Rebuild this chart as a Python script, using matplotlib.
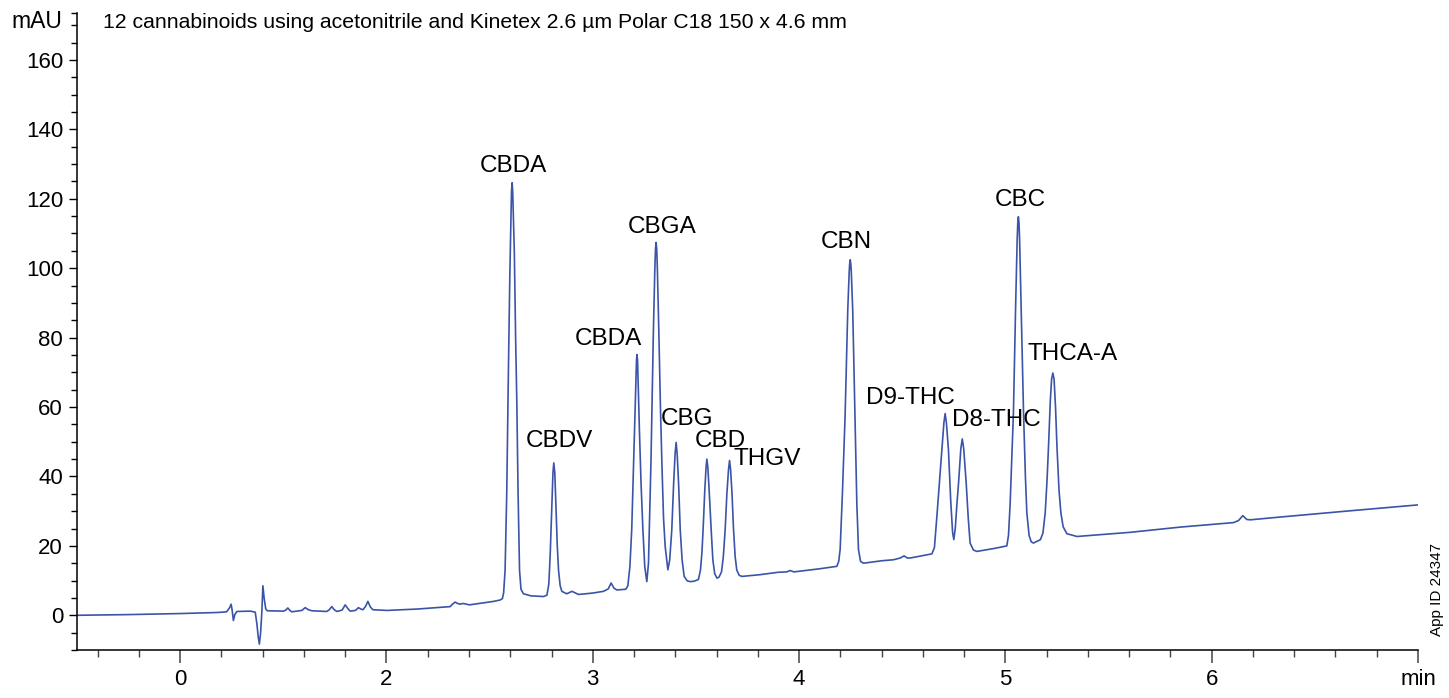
import numpy as np
import matplotlib.pyplot as plt

plt.rcParams['font.family'] = ['Liberation Sans', 'DejaVu Sans']

# Trace: retention time (min) and absorbance (mAU)
# baseline and injection disturbance
t_base = [0.50, 0.75, 1.00, 1.18, 1.225, 1.240, 1.247, 1.252, 1.258, 1.265, 1.275,
          1.340, 1.364, 1.372, 1.378, 1.384, 1.390, 1.396, 1.401, 1.407, 1.415, 1.423,
          1.501, 1.512, 1.522, 1.532, 1.541, 1.590, 1.606, 1.622, 1.638, 1.711, 1.723,
          1.735, 1.747, 1.760, 1.785, 1.800, 1.812, 1.824, 1.850, 1.864, 1.876, 1.886,
          1.898, 1.910, 1.922, 1.934, 2.002, 2.150, 2.260, 2.309, 2.320, 2.333, 2.345,
          2.357, 2.370, 2.381, 2.402, 2.519, 2.551]
a_base = [0.0, 0.2, 0.5, 0.8, 1.0, 2.2, 3.2, 1.5, -1.5, 0.2, 1.1,
          1.2, 0.9, -2.5, -6.0, -8.3, -5.0, 1.0, 8.5, 5.0, 1.8, 1.3,
          1.2, 1.5, 2.1, 1.4, 1.0, 1.4, 2.2, 1.6, 1.3, 1.1, 1.6,
          2.5, 1.6, 1.1, 1.5, 3.0, 2.0, 1.2, 1.4, 2.2, 1.8, 1.6,
          2.5, 4.0, 2.4, 1.6, 1.4, 1.8, 2.3, 2.5, 3.2, 3.8, 3.4,
          3.2, 3.4, 3.3, 3.0, 4.0, 4.4]

# CBDA / CBDV region
t_p1 = [2.562, 2.568, 2.575, 2.583, 2.591, 2.598, 2.603, 2.606, 2.609, 2.612, 2.615,
        2.620, 2.626, 2.632, 2.638, 2.645, 2.652, 2.664, 2.700, 2.761, 2.778, 2.787,
        2.794, 2.802, 2.807, 2.811, 2.816, 2.821, 2.828, 2.834, 2.842, 2.850, 2.874,
        2.899, 2.931, 3.000, 3.052, 3.075, 3.089, 3.103, 3.117, 3.160]
a_p1 = [4.8, 6.5, 13.0, 35.0, 70.0, 98.0, 114.0, 122.0, 124.6, 122.0, 115.0,
        104.0, 80.0, 61.0, 35.0, 13.0, 7.5, 6.2, 5.6, 5.4, 5.8, 9.0,
        18.0, 32.0, 41.0, 43.9, 41.0, 32.0, 20.0, 13.0, 8.5, 6.9, 6.2,
        6.9, 6.0, 6.4, 6.9, 7.6, 9.3, 7.8, 7.3, 7.5]

# CBDA, CBGA, CBG, CBD, THGV cluster
t_p2 = [3.170, 3.180, 3.189, 3.196, 3.202, 3.209, 3.212, 3.214, 3.217, 3.219, 3.226,
        3.234, 3.243, 3.252, 3.262, 3.270, 3.282, 3.294, 3.301, 3.304, 3.307, 3.310,
        3.313, 3.320, 3.328, 3.335, 3.343, 3.351, 3.364, 3.373, 3.383, 3.392, 3.399,
        3.404, 3.409, 3.416, 3.424, 3.433, 3.443, 3.458, 3.472, 3.490, 3.512, 3.522,
        3.529, 3.535, 3.543, 3.549, 3.553, 3.558, 3.565, 3.574, 3.582, 3.591, 3.602,
        3.612, 3.624, 3.633, 3.642, 3.650, 3.658, 3.663, 3.668, 3.675, 3.682, 3.690,
        3.698, 3.710, 3.723, 3.811]
a_p2 = [8.5, 14.0, 25.0, 40.0, 53.5, 69.0, 73.5, 75.1, 73.5, 69.0, 53.5,
        38.0, 24.6, 14.0, 9.7, 15.0, 43.9, 82.3, 100.0, 105.5, 107.4, 105.5,
        100.0, 82.3, 60.0, 43.9, 28.0, 19.8, 13.1, 16.0, 24.6, 38.0, 46.5,
        49.8, 46.5, 38.0, 24.6, 16.0, 11.2, 9.9, 9.7, 9.8, 10.3, 13.0,
        18.0, 25.0, 36.0, 42.5, 45.0, 42.5, 35.0, 24.6, 16.0, 12.0, 10.7,
        11.0, 12.5, 17.0, 25.0, 35.0, 42.0, 44.6, 42.0, 35.0, 25.0, 17.0,
        13.0, 11.5, 11.2, 11.7]

# CBN, D9-THC, D8-THC
t_p3 = [3.900, 3.940, 3.957, 3.975, 4.100, 4.183, 4.192, 4.199, 4.210, 4.223, 4.236,
        4.243, 4.245, 4.248, 4.251, 4.253, 4.260, 4.271, 4.280, 4.288, 4.298, 4.312,
        4.400, 4.458, 4.490, 4.509, 4.525, 4.539, 4.600, 4.644, 4.656, 4.668, 4.680,
        4.692, 4.702, 4.708, 4.714, 4.724, 4.735, 4.744, 4.750, 4.757, 4.765, 4.773,
        4.784, 4.791, 4.798, 4.810, 4.820, 4.829, 4.845, 4.862, 4.950, 5.007]
a_p3 = [12.4, 12.5, 12.9, 12.5, 13.4, 14.1, 15.5, 18.9, 35.0, 57.3, 88.0,
        99.0, 101.0, 102.4, 101.0, 99.0, 88.0, 57.3, 32.0, 18.9, 15.5, 15.0,
        15.7, 16.0, 16.5, 17.1, 16.5, 16.5, 17.2, 17.7, 19.5, 28.5, 38.0,
        47.7, 55.5, 58.1, 55.5, 47.7, 33.0, 24.0, 21.8, 25.0, 32.0, 38.1,
        48.0, 50.8, 48.0, 38.1, 28.0, 20.8, 18.8, 18.4, 19.3, 20.0]

# CBC, THCA-A and tail
t_p4 = [5.015, 5.023, 5.031, 5.039, 5.050, 5.057, 5.060, 5.063, 5.066, 5.069, 5.076,
        5.088, 5.097, 5.104, 5.115, 5.125, 5.136, 5.150, 5.170, 5.182, 5.193, 5.202,
        5.209, 5.218, 5.224, 5.230, 5.236, 5.243, 5.250, 5.260, 5.269, 5.280, 5.298,
        5.347, 5.605, 5.847, 6.106, 6.130, 6.151, 6.170, 6.187, 6.332, 6.671, 7.000]
a_p4 = [23.0, 32.0, 45.0, 58.3, 90.0, 108.0, 113.0, 114.8, 113.0, 108.0, 90.0,
        58.3, 40.0, 29.5, 23.0, 21.2, 20.8, 21.2, 21.8, 23.7, 29.5, 39.0,
        48.6, 62.0, 68.0, 69.8, 68.0, 60.0, 48.6, 36.0, 29.5, 25.5, 23.5,
        22.7, 23.9, 25.4, 26.7, 27.3, 28.7, 27.6, 27.5, 28.3, 30.1, 31.8]

time = np.array(t_base + t_p1 + t_p2 + t_p3 + t_p4)
mau = np.array(a_base + a_p1 + a_p2 + a_p3 + a_p4)

# Peak labels
peak_names = ['CBDA', 'CBDV', 'CBDA', 'CBGA', 'CBG', 'CBD', 'THGV',
              'CBN', 'D9-THC', 'D8-THC', 'CBC', 'THCA-A']
peak_times = [2.609, 2.811, 3.214, 3.307, 3.404, 3.553, 3.663,
              4.248, 4.708, 4.791, 5.063, 5.230]
peak_heights = [124.6, 43.9, 75.1, 107.4, 49.8, 45.0, 44.6,
                102.4, 58.1, 50.8, 114.8, 69.8]
# label offsets from the apex, in pixels
label_dx = [1, 6, -29, 6, 11, 13, 38, -4, -35, 34, 2, 20]
label_dy = [17, 22, 16, 15, 23, 18, 1, 18, 16, 19, 17, 19]

x_ticks = [1, 2, 3, 4, 5, 6, 7]
x_labels = ['0', '2', '3', '4', '5', '6', 'min']
y_ticks = [0, 20, 40, 60, 80, 100, 120, 140, 160]

fig = plt.figure(figsize=(14.49, 6.98), dpi=100)
ax = fig.add_axes([77 / 1449, 48 / 698, (1418 - 77) / 1449, (650 - 13) / 698])

ax.plot(time, mau, color='#3b54a8', linewidth=1.2)

for name, t, h, dx, dy in zip(peak_names, peak_times, peak_heights, label_dx, label_dy):
    ax.annotate(name, (t, h), xytext=(dx, dy), textcoords='offset pixels',
                ha='center', va='center', fontsize=17.5, color='black')

ax.set_xlim(0.5, 7.0)
ax.set_ylim(-10, 173.5)
ax.set_xticks(x_ticks)
ax.set_xticklabels(x_labels)
ax.set_xticks(np.arange(0.6, 7.0, 0.2), minor=True)
ax.set_yticks(y_ticks)
ax.set_yticks(list(np.arange(-10, 171, 5)) + [173.5], minor=True)

for s in ['top', 'right']:
    ax.spines[s].set_visible(False)
for s in ['left', 'bottom']:
    ax.spines[s].set_linewidth(1.1)

ax.tick_params(axis='x', which='major', length=9, width=1.1, pad=5,
               labelsize=16, color='#444444')
ax.tick_params(axis='x', which='minor', length=5, width=1.0, color='#444444')
ax.tick_params(axis='y', which='major', length=6, width=1.0, pad=4, labelsize=16)
ax.tick_params(axis='y', which='minor', length=4.5, width=1.0)

fig.text(62 / 1449, 1 - 21 / 698, 'mAU', ha='right', va='center', fontsize=16.5)
fig.text(103 / 1449, 1 - 22 / 698,
         '12 cannabinoids using acetonitrile and Kinetex 2.6 µm Polar C18 150 x 4.6 mm',
         ha='left', va='center', fontsize=15.3)
fig.text(1437 / 1449, 1 - 590 / 698, 'App ID 24347', rotation=90,
         ha='center', va='center', fontsize=11)

fig.savefig('out.png', dpi=100)
